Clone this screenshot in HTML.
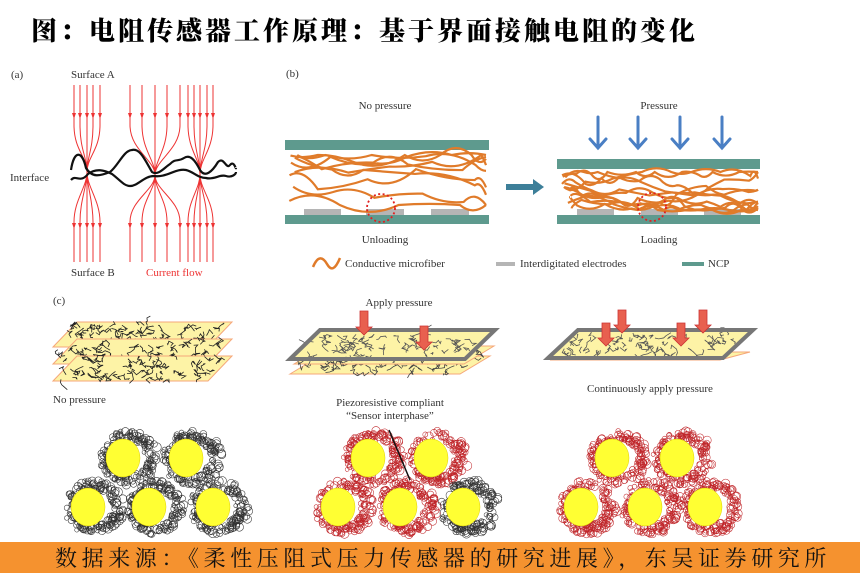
<!DOCTYPE html>
<html><head><meta charset="utf-8">
<style>
html,body{margin:0;padding:0;background:#fff;}
body{width:860px;height:573px;overflow:hidden;position:relative;}
svg{position:absolute;left:0;top:0;}
.t{font-family:"Liberation Serif",serif;fill:#333;}
</style></head>
<body>
<svg id="s" width="860" height="573" viewBox="0 0 860 573" xmlns="http://www.w3.org/2000/svg">
<text x="31" y="40" style="font-family:'Noto Serif CJK SC',serif;font-weight:900;font-size:26px;letter-spacing:3px" fill="#000">图：电阻传感器工作原理：基于界面接触电阻的变化</text>

<!-- (a) -->
<text class="t" x="11" y="78" font-size="11">(a)</text>
<text class="t" x="71" y="78" font-size="11">Surface A</text>
<text class="t" x="10" y="181" font-size="11">Interface</text>
<text class="t" x="71" y="276" font-size="11">Surface B</text>
<text class="t" x="146" y="276" font-size="11" style="fill:#e33">Current flow</text>
<g id="cur" stroke="#e33" stroke-width="1" fill="none"></g>
<g stroke="#111" stroke-width="2.2" fill="none">
<path d="M71,170 C74,150 82,150 86,168 C92,178 100,176 110,172 C118,166 124,150 132,150 C140,148 145,160 152,172 C158,176 164,168 170,164 C176,158 178,162 184,158 C190,154 195,160 200,170 C205,178 212,172 218,162 C224,156 226,170 230,165 C234,160 236,170 236,168"/>
<path d="M71,180 C76,174 80,184 88,174 C96,168 104,170 112,174 C120,180 124,186 130,186 C138,186 144,176 154,176 C166,178 176,168 186,170 C194,172 198,178 206,178 C214,180 220,174 226,176 C232,178 236,174 236,172"/>
</g>

<!-- (b) -->
<text class="t" x="286" y="77" font-size="11">(b)</text>
<text class="t" x="385" y="109" font-size="11" text-anchor="middle">No pressure</text>
<text class="t" x="659" y="109" font-size="11" text-anchor="middle">Pressure</text>
<text class="t" x="385" y="243" font-size="11" text-anchor="middle">Unloading</text>
<text class="t" x="659" y="243" font-size="11" text-anchor="middle">Loading</text>
<rect x="285" y="140" width="204" height="10" fill="#5e9a8e"/>
<rect x="285" y="215" width="204" height="9" fill="#5e9a8e"/>
<rect x="304" y="209" width="37" height="6" fill="#b5b5b5"/>
<rect x="366" y="209" width="38" height="6" fill="#b5b5b5"/>
<rect x="431" y="209" width="38" height="6" fill="#b5b5b5"/>
<rect x="557" y="159" width="203" height="10" fill="#5e9a8e"/>
<rect x="557" y="215" width="203" height="9" fill="#5e9a8e"/>
<rect x="577" y="209" width="37" height="6" fill="#b5b5b5"/>
<rect x="641" y="209" width="37" height="6" fill="#b5b5b5"/>
<rect x="704" y="209" width="37" height="6" fill="#b5b5b5"/>
<g id="fib" stroke="#e07b2a" stroke-width="2.2" fill="none"></g>
<circle cx="381" cy="208" r="14" fill="none" stroke="#e02020" stroke-width="1.8" stroke-dasharray="2 2.5"/>
<circle cx="652" cy="207" r="14" fill="none" stroke="#e02020" stroke-width="1.8" stroke-dasharray="2 2.5"/>
<path d="M506,184 H533 V179 L544,187 L533,195 V190 H506 z" fill="#3d7f99"/>
<g stroke="#4a7fc4" stroke-width="3" fill="none" stroke-linecap="round">
<path d="M598,117 V148 M590,139 L598,148 L606,139"/>
<path d="M638,117 V148 M630,139 L638,148 L646,139"/>
<path d="M680,117 V148 M672,139 L680,148 L688,139"/>
<path d="M722,117 V148 M714,139 L722,148 L730,139"/>
</g>
<path d="M313,267 C318,255 323,257 327,264 C331,271 335,270 340,258" stroke="#e07b2a" stroke-width="2.5" fill="none"/>
<text class="t" x="345" y="267" font-size="11">Conductive microfiber</text>
<rect x="496" y="262" width="19" height="4" fill="#b5b5b5"/>
<text class="t" x="520" y="267" font-size="11">Interdigitated electrodes</text>
<rect x="682" y="262" width="22" height="4" fill="#5e9a8e"/>
<text class="t" x="708" y="267" font-size="11">NCP</text>

<!-- (c) -->
<text class="t" x="53" y="304" font-size="11">(c)</text>
<text class="t" x="399" y="306" font-size="11" text-anchor="middle">Apply pressure</text>
<text class="t" x="53" y="403" font-size="11">No pressure</text>
<text class="t" x="390" y="406" font-size="11" text-anchor="middle">Piezoresistive compliant</text>
<text class="t" x="390" y="419" font-size="11" text-anchor="middle">“Sensor interphase”</text>
<text class="t" x="650" y="392" font-size="11" text-anchor="middle">Continuously apply pressure</text>
<g id="lay"></g>
<g id="balls"></g>
<line x1="389" y1="430" x2="410" y2="480" stroke="#111" stroke-width="1.5"/>

<rect x="0" y="542" width="860" height="31" fill="#f5922f"/>
<text x="55" y="566" style="font-family:'Noto Serif CJK SC',serif;font-size:22px;letter-spacing:4.6px" fill="#111">数据来源：《柔性压阻式压力传感器的研究进展》，东吴证券研究所</text>
</svg>
<script>
(function(){
var NS="http://www.w3.org/2000/svg";
var seed=7;function r(){seed=(seed*16807)%2147483647;return seed/2147483647;}
function el(p,tag,a){var e=document.createElementNS(NS,tag);for(var k in a)e.setAttribute(k,a[k]);p.appendChild(e);return e;}
var cur=document.getElementById('cur');
var groups=[[[74,80,87,93,100],87,172],[[130,142,155,167,180],155,175],[[188,194,200,207,213],200,174]];
groups.forEach(function(g){g[0].forEach(function(x){
 el(cur,'path',{d:'M'+x+',85 V125 C'+x+',150 '+g[1]+','+(g[2]-15)+' '+g[1]+','+g[2]+' C'+g[1]+','+(g[2]+15)+' '+x+',200 '+x+',222 V262'});
 el(cur,'path',{d:'M'+(x-2)+',113 L'+x+',119 L'+(x+2)+',113 z',fill:'#e33',stroke:'none'});
 el(cur,'path',{d:'M'+(x-2)+',223 L'+x+',229 L'+(x+2)+',223 z',fill:'#e33',stroke:'none'});
});});
var fib=document.getElementById('fib');
function fibers(x0,x1,y0,y1,n,amp,wl){
 for(var i=0;i<n;i++){var y=y0+r()*(y1-y0);var d='M'+(x0+r()*10)+','+y;var x=x0;
  while(x<x1){var nx=Math.min(x1,x+wl*(0.6+r()*0.8));var ny=Math.max(y0,Math.min(y1,y+(r()-0.5)*amp*2));
   d+=' Q'+((x+nx)/2)+','+(y+(r()-0.5)*amp*2)+' '+nx+','+ny;x=nx;y=ny;}
  el(fib,'path',{d:d});}
}
fibers(288,486,155,205,9,14,45);
fibers(562,758,172,210,12,10,22);
var lay=document.getElementById('lay');
function plane(x,y,w,h,sk,fill,stroke){el(lay,'path',{d:'M'+x+','+(y+h)+' L'+(x+sk)+','+y+' L'+(x+sk+w)+','+y+' L'+(x+w)+','+(y+h)+' z',fill:fill,stroke:stroke,'stroke-width':1});}
function scrib(x,y,w,h,sk,n,col){var d='';for(var i=0;i<n;i++){var t=r(),px=x+sk*(1-t)+r()*w,py=y+t*h;d+='M'+px+','+py;for(var j=0;j<4;j++){px+=(r()-0.5)*10;py+=(r()-0.5)*8;d+=' L'+px+','+py;}}
 el(lay,'path',{d:d,stroke:col,'stroke-width':0.8,fill:'none'});}
[[0,0],[0,17],[0,34]].forEach(function(o,i){var y=322+o[1];plane(53,y,155,25,24,'#fdf3a6','#f5a77a');scrib(55,y+2,150,22,22,70,'#222');});
plane(290,356,170,18,30,'#fdf3a6','#f5a77a');scrib(292,358,165,15,28,40,'#444');
plane(294,346,170,18,30,'#fdf3a6','#f5a77a');scrib(296,348,165,15,28,40,'#444');
plane(290,330,175,29,30,'#fdf3a6','#888');scrib(296,334,165,22,25,60,'#555');
el(lay,'path',{d:'M290,359 L320,330 L495,330 L465,359 z',fill:'none',stroke:'#777','stroke-width':4});
plane(550,352,170,8,30,'#fdf3a6','#f5a77a');
plane(548,330,175,28,30,'#fdf3a6','#888');scrib(552,334,165,20,25,60,'#555');
el(lay,'path',{d:'M548,358 L578,330 L753,330 L723,358 z',fill:'none',stroke:'#777','stroke-width':4});
function arrow(x,y1,y2){el(lay,'path',{d:'M'+(x-4)+','+y1+' H'+(x+4)+' V'+(y2-8)+' H'+(x+8)+' L'+x+','+y2+' L'+(x-8)+','+(y2-8)+' H'+(x-4)+' z',fill:'#e8604f',stroke:'#c33','stroke-width':0.8});}
arrow(364,311,335);arrow(424,326,350);arrow(622,310,333);arrow(606,323,346);arrow(681,323,346);arrow(703,310,333);
var b=document.getElementById('balls');
function ball(cx,cy,col){var d='';for(var i=0;i<170;i++){var a=r()*6.283,rr=18+r()*11;var px=cx+Math.cos(a)*rr,py=cy+Math.sin(a)*rr*0.95;var c=2+r()*2.5;
 d+='M'+(px+c)+','+py+' a'+c+','+c+' 0 1,1 0,0.1';}
 el(b,'path',{d:d,stroke:col,'stroke-width':0.55,fill:'none'});
 el(b,'ellipse',{cx:cx,cy:cy,rx:17,ry:19,fill:'#ffff33',stroke:'#e0d000','stroke-width':0.5});}
var blk='#333',red='#c0262a';
[[123,458],[186,458],[88,507],[149,507],[213,507]].forEach(function(p){ball(p[0],p[1],blk);});
[[368,458,red],[431,458,red],[338,507,red],[400,507,red],[463,507,blk]].forEach(function(p){ball(p[0],p[1],p[2]);});
[[612,458],[677,458],[581,507],[645,507],[705,507]].forEach(function(p){ball(p[0],p[1],red);});
})();
</script>
</body></html>
